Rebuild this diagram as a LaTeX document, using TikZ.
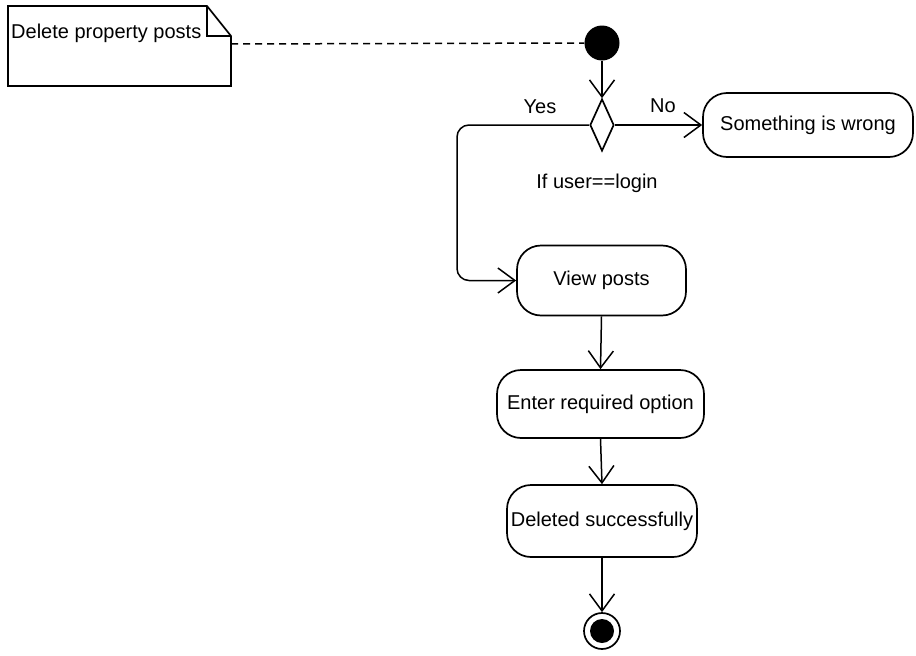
\documentclass[tikz,border=0pt]{standalone}
\usepackage{fontspec}
\setmainfont{Liberation Sans}
\usetikzlibrary{arrows.meta,shapes.geometric}
\begin{document}
\begin{tikzpicture}[x=1pt,y=-1pt,
  every node/.style={font=\fontsize{20}{23}\selectfont},
  act/.style={draw,line width=1.7pt,rounded corners=24pt,inner sep=0pt},
  flow/.style={draw,line width=1.5pt,-{Straight Barb[length=17pt,width=25pt,line width=1.5pt]}},
  lbl/.style={inner sep=0pt}]
\useasboundingbox (0,0) rectangle (916,656);
% note
\coordinate (nTL) at (8,6);
\coordinate (nF1) at (207,6);
\coordinate (nF2) at (231,36);
\coordinate (nBR) at (231,86);
\coordinate (nBL) at (8,86);
\coordinate (nFI) at (207,36);
\coordinate (nAnchor) at (231,44);
\draw[line width=1.7pt,fill=white] (nTL) -- (nF1) -- (nF2) -- (nBR) -- (nBL) -- cycle;
\draw[line width=1.7pt] (nF1) -- (nFI) -- (nF2);
\node[lbl,anchor=west] (notetext) at (11,33) {Delete property posts};
% nodes
\node[circle,fill=black,minimum size=35pt,inner sep=0pt] (start) at (602,43) {};
\node[diamond,draw,line width=1.7pt,minimum width=24pt,minimum height=52pt,inner sep=0pt] (dec) at (602,125) {};
\node[act,minimum width=210pt,minimum height=64pt] (wrong) at (808,125) {Something is wrong};
\node[act,minimum width=169pt,minimum height=70pt] (view) at (601.5,280.5) {View posts};
\node[act,minimum width=207pt,minimum height=68pt] (enter) at (600.5,404) {Enter required option};
\node[act,minimum width=190pt,minimum height=72pt] (deleted) at (602,521) {Deleted successfully};
\node[circle,draw,line width=1.7pt,fill=white,minimum size=36pt,inner sep=0pt] (endo) at (602,631) {};
\node[circle,fill=black,minimum size=24pt,inner sep=0pt] (endi) at (602,631) {};
% labels
\node[lbl] (yes) at (540,107) {Yes};
\node[lbl] (no) at (663,106) {No};
\node[lbl] (cond) at (597,183) {If user==login};
% connectors
\draw[line width=1.5pt,dash pattern=on 7pt off 5pt] (nAnchor) -- (start.west);
\draw[flow] (start.south) -- (dec.north);
\draw[flow] (dec.east) -- (wrong.west);
\draw[flow,rounded corners=12pt] (dec.west) -- (457,125) -- (457,280.5) -- (view.west);
\draw[flow] (view.south) -- (enter.north);
\draw[flow] (enter.south) -- (deleted.north);
\draw[flow] (deleted.south) -- (endo.north);
\end{tikzpicture}
\end{document}
